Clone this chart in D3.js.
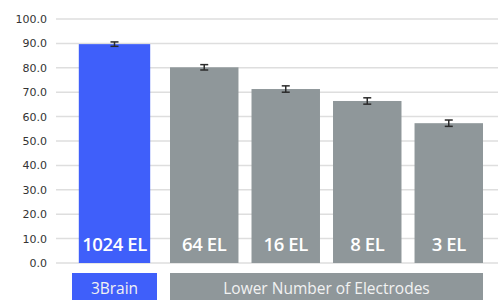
<!DOCTYPE html>
<html>
<head>
<meta charset="utf-8">
<script src="https://cdn.jsdelivr.net/npm/d3@7"></script>
<style>
  html, body { margin: 0; padding: 0; background: #fff; }
  svg { display: block; }
</style>
</head>
<body>
<div id="chart"></div>
<script>
// data
const categories = ['1024 EL', '64 EL', '16 EL', '8 EL', '3 EL'];
const values = [89.7, 80.2, 71.3, 66.4, 57.3];
const errors = [0.9, 1.1, 1.3, 1.3, 1.3];
const groups = ['3Brain', 'Lower Number of Electrodes'];
const groupOf = [0, 1, 1, 1, 1];
const yTicks = [0, 10, 20, 30, 40, 50, 60, 70, 80, 90, 100];

const W = 498, H = 300;
const colors = ['#3f5ffa', '#8f979a'];

const svg = d3.select('#chart').append('svg')
  .attr('width', W)
  .attr('height', H);

const y = d3.scaleLinear().domain([0, 100]).range([263, 19]);

// the 3Brain group is one wide bar, the other group splits its span in four
const groupSpan = [[72, 157], [170, 483]];
const inner = groups.map((g, gi) => d3.scaleBand()
  .domain(categories.filter((c, i) => groupOf[i] === gi))
  .range(groupSpan[gi])
  .paddingInner(0.16));

const xPos = (c, i) => inner[groupOf[i]](c);
const bw = i => inner[groupOf[i]].bandwidth();

// grid
svg.append('g')
  .selectAll('line')
  .data(yTicks)
  .join('line')
  .attr('x1', 56).attr('x2', W)
  .attr('y1', d => y(d)).attr('y2', d => y(d))
  .attr('stroke', '#dedede')
  .attr('stroke-width', 1.5);

// y axis labels
const yAxis = d3.axisLeft(y).tickValues(yTicks).tickFormat(d3.format('.1f')).tickSize(0).tickPadding(0);
svg.append('g')
  .attr('transform', 'translate(47,0)')
  .call(yAxis)
  .call(g => g.select('.domain').remove())
  .selectAll('text')
  .attr('font-family', 'DejaVu Sans, sans-serif')
  .attr('font-size', 11)
  .attr('fill', '#333');

// bars
svg.append('g')
  .selectAll('rect')
  .data(categories)
  .join('rect')
  .attr('x', (c, i) => xPos(c, i))
  .attr('width', (c, i) => bw(i))
  .attr('y', (c, i) => y(values[i]))
  .attr('height', (c, i) => y(0) - y(values[i]))
  .attr('fill', (c, i) => colors[groupOf[i]]);

// error bars
const eb = svg.append('g')
  .attr('stroke', '#2b2b2b')
  .attr('stroke-width', 1.5)
  .selectAll('g')
  .data(categories)
  .join('g')
  .attr('transform', (c, i) => `translate(${xPos(c, i) + bw(i) / 2},0)`);
eb.append('line')
  .attr('y1', (c, i) => y(values[i] + errors[i]))
  .attr('y2', (c, i) => y(values[i] - errors[i]));
eb.append('line')
  .attr('x1', -4).attr('x2', 4)
  .attr('y1', (c, i) => y(values[i] + errors[i]))
  .attr('y2', (c, i) => y(values[i] + errors[i]));
eb.append('line')
  .attr('x1', -4).attr('x2', 4)
  .attr('y1', (c, i) => y(values[i] - errors[i]))
  .attr('y2', (c, i) => y(values[i] - errors[i]));

// labels inside bars
svg.append('g')
  .selectAll('text')
  .data(categories)
  .join('text')
  .attr('x', (c, i) => xPos(c, i) + bw(i) / 2)
  .attr('y', 251)
  .attr('text-anchor', 'middle')
  .attr('font-family', 'Open Sans, sans-serif')
  .attr('font-weight', 600)
  .attr('font-size', 18.5)
  .attr('letter-spacing', -0.4)
  .attr('fill', '#fff')
  .text(c => c);

// group boxes under the axis
const gb = svg.append('g')
  .selectAll('g')
  .data(groups)
  .join('g');
gb.append('rect')
  .attr('x', (g, gi) => groupSpan[gi][0])
  .attr('width', (g, gi) => groupSpan[gi][1] - groupSpan[gi][0])
  .attr('y', 273)
  .attr('height', 30)
  .attr('fill', (g, gi) => colors[gi]);
gb.append('text')
  .attr('x', (g, gi) => (groupSpan[gi][0] + groupSpan[gi][1]) / 2)
  .attr('y', 293.5)
  .attr('text-anchor', 'middle')
  .attr('font-family', 'Open Sans, sans-serif')
  .attr('font-size', 15.5)
  .attr('fill', '#f2f2f2')
  .text(g => g);
</script>
</body>
</html>
